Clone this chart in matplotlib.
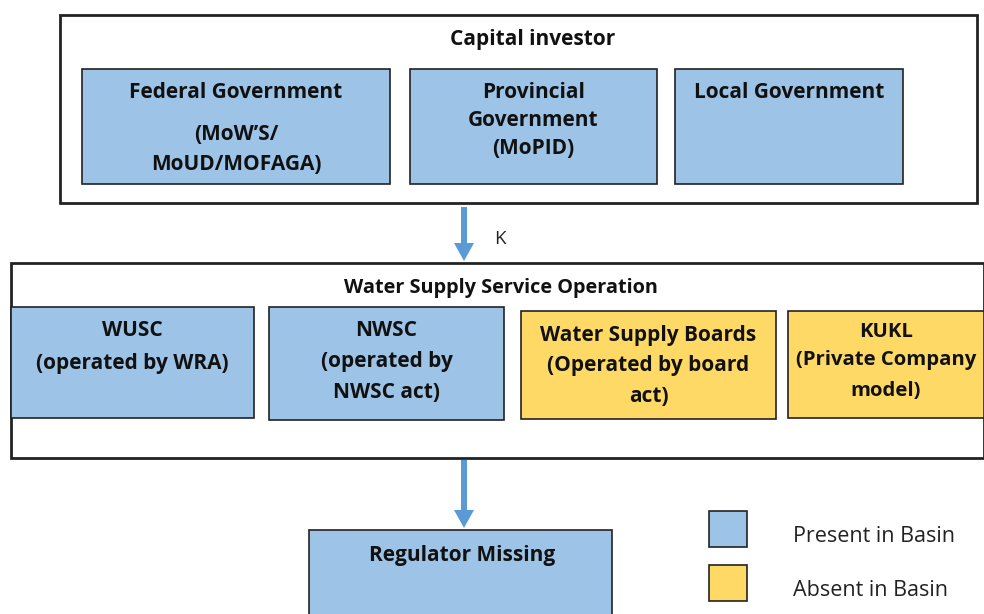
import matplotlib.pyplot as plt
from matplotlib.patches import Rectangle, FancyArrow

plt.rcParams['font.family'] = ['Open Sans', 'DejaVu Sans']

BLUE = '#9DC3E6'
YELLOW = '#FFD966'
ARROW = '#5B9BD5'

# text content
investor_title = 'Capital investor'
investor_labels = [['Federal Government', '(MoW\u2019S/', 'MoUD/MOFAGA)'],
                   ['Provincial', 'Government', '(MoPID)'],
                   ['Local Government']]
operation_title = 'Water Supply Service Operation'
operation_labels = [['WUSC', '(operated by WRA)'],
                    ['NWSC', '(operated by', 'NWSC act)'],
                    ['Water Supply Boards', '(Operated by board', 'act)'],
                    ['KUKL', '(Private Company', 'model)']]
operation_present = [True, True, False, False]
regulator_label = 'Regulator Missing'
legend_labels = ['Present in Basin', 'Absent in Basin']
arrow_label = 'K'

# layout in pixels: boxes (x0, y0, x1, y1) and line centres
investor_boxes = [(82, 69, 390, 184), (410, 69, 657, 184), (675, 69, 903, 184)]
investor_line_y = [[90, 133, 162], [90, 118, 147], [90]]
operation_boxes = [(11, 307, 254, 418), (269, 307, 504, 420),
                   (521, 311, 776, 419), (788, 311, 984, 418)]
operation_line_y = [[329, 361], [329, 360, 391], [333, 363, 395], [330, 358, 389]]
operation_size = [15, 15, 15, 14.6]

fig = plt.figure(figsize=(9.84, 6.14), dpi=100)
ax = fig.add_axes([0, 0, 1, 1])
ax.set_xlim(0, 984)
ax.set_ylim(614, 0)
ax.axis('off')

DY = 2  # va='center' sits a bit high for caps, shift down


def box(x0, y0, x1, y1, fc, lw=1.2):
    ax.add_patch(Rectangle((x0, y0), x1 - x0, y1 - y0, facecolor=fc,
                           edgecolor='#222222', linewidth=lw, clip_on=False))


def label(x, y, s, size=14, weight='bold', ha='center'):
    ax.text(x, y + DY, s, ha=ha, va='center', fontsize=size, fontweight=weight,
            color='#111111')


# capital investor block
box(60, 15, 977, 203, 'white', lw=2)
label(533, 38, investor_title, size=15)
for (x0, y0, x1, y1), lines, ys in zip(investor_boxes, investor_labels, investor_line_y):
    box(x0, y0, x1, y1, BLUE)
    for s, y in zip(lines, ys):
        label((x0 + x1) / 2, y, s, size=15)

# arrow 1
ax.add_patch(FancyArrow(464, 207, 0, 54, width=6, head_width=20, head_length=18,
                        length_includes_head=True, color=ARROW, linewidth=0))
ax.text(500, 237 + DY, arrow_label, ha='center', va='center', fontsize=13.5, color='#222222')

# water supply operation block
box(11, 263, 984, 458, 'white', lw=2)
label(501, 286, operation_title, size=14.3)
for (x0, y0, x1, y1), lines, ys, p, fs in zip(operation_boxes, operation_labels,
                                              operation_line_y, operation_present,
                                              operation_size):
    box(x0, y0, x1, y1, BLUE if p else YELLOW)
    for s, y in zip(lines, ys):
        label((x0 + x1) / 2, y, s, size=fs)

# arrow 2
ax.add_patch(FancyArrow(464, 460, 0, 68, width=6, head_width=20, head_length=18,
                        length_includes_head=True, color=ARROW, linewidth=0))

# regulator
box(309, 530, 612, 620, BLUE)
label(462, 553, regulator_label, size=15)

# legend
for i, (s, c) in enumerate(zip(legend_labels, [BLUE, YELLOW])):
    y = 511 + i * 54
    box(709, y, 747, y + 36, c)
    ax.text(793, y + 23 + DY, s, ha='left', va='center', fontsize=15.5, color='#222222')

fig.savefig('out.png', dpi=100)
